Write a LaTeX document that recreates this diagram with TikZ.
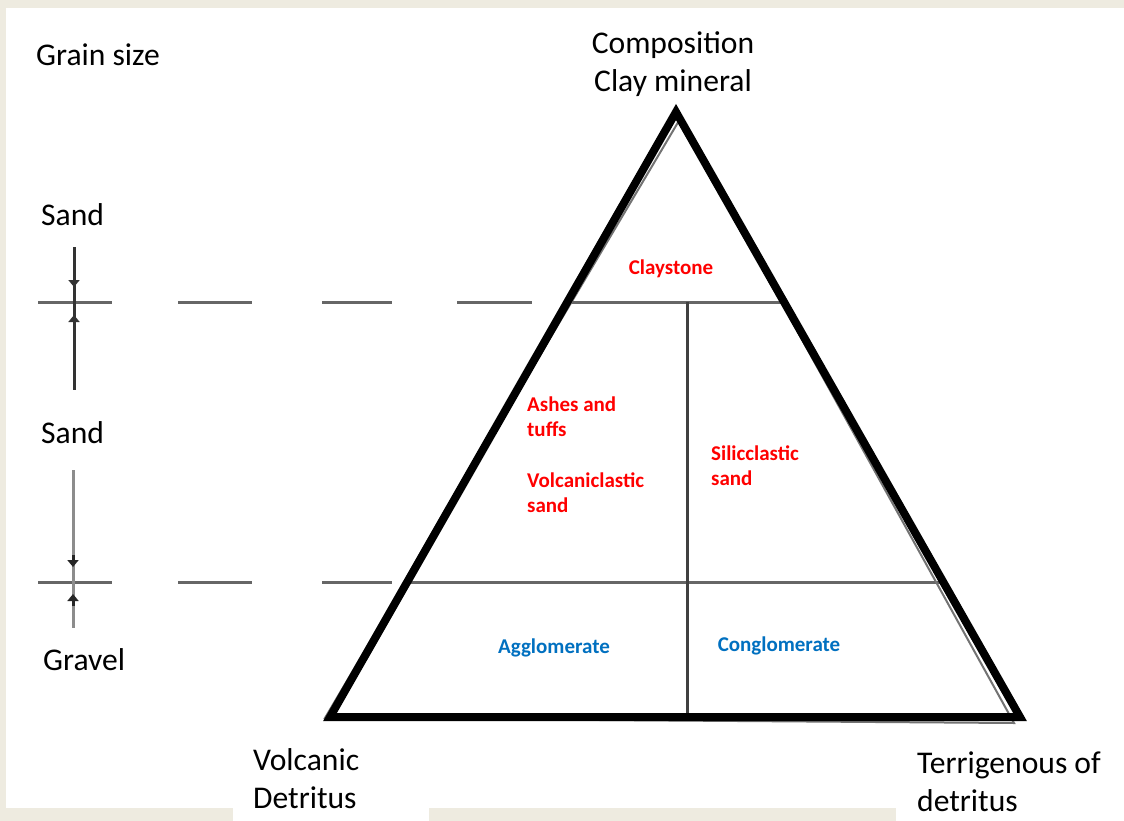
\documentclass[tikz,border=0pt]{standalone}
\usepackage{fontspec}
\setmainfont{Carlito}
\usetikzlibrary{arrows.meta}
\definecolor{beige}{HTML}{EEEBE0}
\definecolor{redtxt}{HTML}{FF0000}
\definecolor{bluetxt}{HTML}{0070C0}
\definecolor{lgray}{HTML}{666666}
\begin{document}
\begin{tikzpicture}[x=1pt,y=-1pt,
  big/.style={font=\fontsize{31.6}{38}\selectfont, inner sep=0pt},
  redlab/.style={font=\bfseries\fontsize{21}{25}\selectfont, text=redtxt, inner sep=0pt, align=left},
  bluelab/.style={font=\bfseries\fontsize{21}{25}\selectfont, text=bluetxt, inner sep=0pt},
  gline/.style={draw=lgray, line width=3pt},
  tickline/.style={draw=black!80, line width=3pt},
  tickhead/.style={draw=black!80, line width=3pt, -{Triangle[width=11pt,length=7pt]}},
  thick tri/.style={draw=black, line width=8pt, line join=miter},
  thin tri/.style={draw=black!55, line width=2pt}]
% background
\fill[beige] (0,0) rectangle (1124,821);
\fill[white] (6,8) rectangle (1124,808);
\fill[white] (233,808) rectangle (429,821);
\fill[white] (896,808) rectangle (1124,821);
\useasboundingbox (0,0) rectangle (1124,821);

% coordinates
\coordinate (A) at (676,112);
\coordinate (L) at (330,717);
\coordinate (R) at (1020,717);
\coordinate (GA) at (680,119);
\coordinate (GL) at (325,718);
\coordinate (GR) at (1014,723);

% upper level line
\coordinate (u0) at (38,302);  \coordinate (u1) at (112,302);
\coordinate (u2) at (178,302); \coordinate (u3) at (252,302);
\coordinate (u4) at (322,302); \coordinate (u5) at (392,302);
\coordinate (u6) at (457,302); \coordinate (u7) at (532,302);
\coordinate (u8) at (567,302); \coordinate (u9) at (784,302);
% lower level line
\coordinate (w0) at (38,582);  \coordinate (w1) at (112,582);
\coordinate (w2) at (178,582); \coordinate (w3) at (252,582);
\coordinate (w4) at (322,582); \coordinate (w5) at (392,582);
\coordinate (w8) at (407,582); \coordinate (w9) at (943,582);
% vertical divider
\coordinate (v0) at (687,302); \coordinate (v1) at (687,717);

\draw[gline] (u0) -- (u1);
\draw[gline] (u2) -- (u3);
\draw[gline] (u4) -- (u5);
\draw[gline] (u6) -- (u7);
\draw[gline] (u8) -- (u9);
\draw[gline] (w0) -- (w1);
\draw[gline] (w2) -- (w3);
\draw[gline] (w4) -- (w5);
\draw[gline] (w8) -- (w9);
\draw[draw=black!75, line width=3pt] (v0) -- (v1);

% grain size ticks
\coordinate (t1) at (74,247); \coordinate (t1h) at (74,276); \coordinate (t1e) at (74,287);
\coordinate (t2) at (74,390); \coordinate (t2h) at (74,327); \coordinate (t2e) at (74,315);
\coordinate (t3) at (73,470); \coordinate (t3h) at (73,555); \coordinate (t3e) at (73,567);
\coordinate (t4) at (73,628); \coordinate (t4h) at (73,606); \coordinate (t4e) at (73,594);
\draw[tickline] (t1) -- (t2);
\draw[tickhead] (t1h) -- (t1e);
\draw[tickhead] (t2h) -- (t2e);
\draw[tickline, draw=black!45] (t3) -- (t4);
\draw[tickhead, draw=black!85] (t3h) -- (t3e);
\draw[tickhead, draw=black!85] (t4h) -- (t4e);

% triangles
\draw[thin tri] (GA) -- (GL) -- (GR) -- cycle;
\draw[thick tri] (A) -- (L) -- (R) -- cycle;

% labels
\node[big, anchor=west] (grain) at (36,55) {Grain size};
\node[big, anchor=west] (sand1) at (41,215) {Sand};
\node[big, anchor=west] (sand2) at (41,433) {Sand};
\node[big, anchor=west] (gravel) at (43,660) {Gravel};
\node[big, align=center] (comp) at (673,64) {Composition\\Clay mineral};
\node[big, align=left, anchor=west] (volc) at (253,779) {Volcanic\\Detritus};
\node[big, align=left, anchor=west] (terr) at (917,782) {Terrigenous of\\detritus};

\node[redlab] (clay) at (671,269) {Claystone};
\node[redlab, anchor=west] (ash) at (527,417) {Ashes and\\tuffs};
\node[redlab, anchor=west] (vsand) at (527,493) {Volcaniclastic\\sand};
\node[redlab, anchor=west] (ssand) at (711,466) {Silicclastic\\sand};
\node[bluelab] (agg) at (554,648) {Agglomerate};
\node[bluelab] (cong) at (779,646) {Conglomerate};
\end{tikzpicture}
\end{document}
